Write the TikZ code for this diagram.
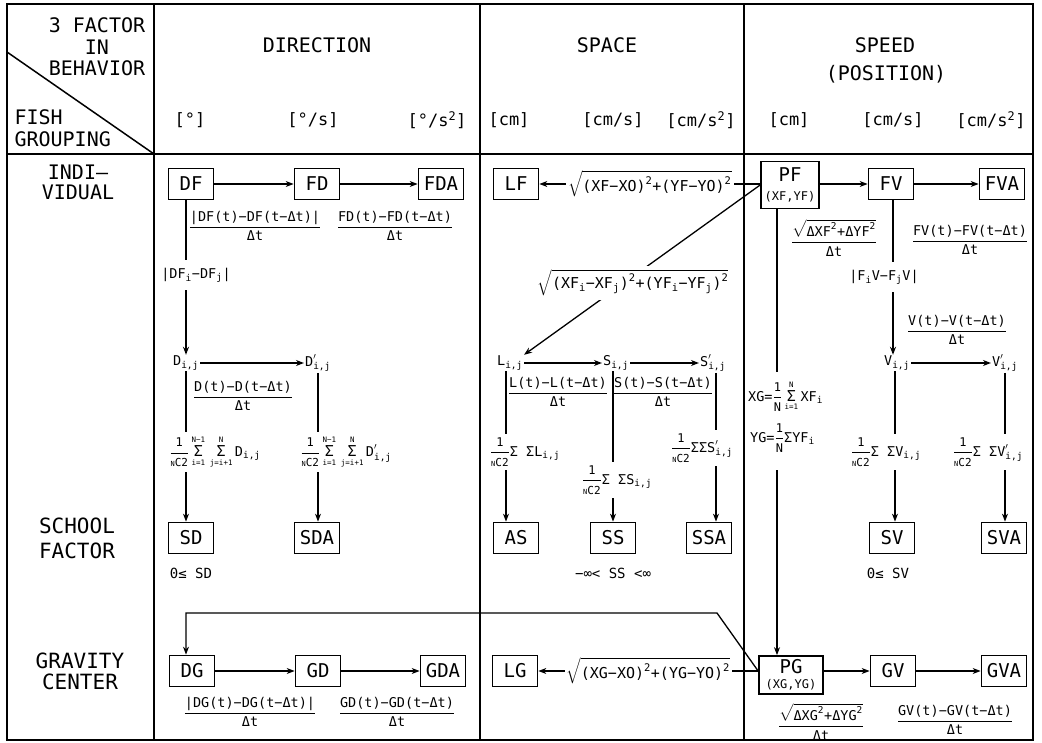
\documentclass[tikz,border=0pt]{standalone}
\usepackage{amsmath}
\usepackage{fontspec}
\setmainfont{DejaVu Sans Mono}
\usetikzlibrary{arrows.meta}
\newcommand{\fsz}[1]{\fontsize{#1}{#1}\selectfont}
\newcommand{\fr}[2]{$\dfrac{\text{#1}}{\text{#2}}$}
\newcommand{\nCt}{\text{\fsz{7}N}\text{\fsz{11}C2}}
\newcommand{\onenc}{\dfrac{\text{\fsz{12}1}}{\nCt}}
\newcommand{\sgm}[2]{\mathop{\text{\fsz{15}Σ}}\limits_{\text{\fsz{7.5}#1}}^{\text{\fsz{7.5}#2}}}
\newcommand{\sij}{_{\text{i,j}}}
\tikzset{
  bx/.style={draw, line width=1.7pt, minimum width=45pt, minimum height=31pt, inner sep=1pt, font=\fsz{19}},
  arr/.style={line width=1.3pt, -{Stealth[length=8pt,width=6pt]}},
  ln/.style={line width=1.3pt},
  lab/.style={font=\fsz{13.5}, inner sep=1pt},
  wl/.style={lab, fill=white, inner xsep=2pt, inner ysep=4pt},
  hd/.style={font=\fsz{20}},
  un/.style={font=\fsz{17}},
  tbl/.style={line width=1.5pt}
}
\begin{document}
\begin{tikzpicture}[x=1pt,y=-1pt]
\useasboundingbox (0,0) rectangle (1042,743);
% headers
\node[hd, align=center] (hA) at (97,47) {3 FACTOR\\[1.5pt]IN\\[1.5pt]BEHAVIOR};
\node[hd, align=left, anchor=west] (hB) at (11,128) {FISH\\[2pt]GROUPING};
\node[hd] (hDir) at (317,45) {DIRECTION};
\node[hd] (hSpa) at (607,45) {SPACE};
\node[hd] (hSpe) at (885,45) {SPEED};
\node[hd] (hPos) at (886,74) {(POSITION)};
\node[un] (u1) at (190,120) {[°]};
\node[un] (u2) at (313,120) {[°/s]};
\node[un] (u3) at (437,120) {[°/s\textsuperscript{2}]};
\node[un] (u4) at (509,120) {[cm]};
\node[un] (u5) at (613,120) {[cm/s]};
\node[un] (u6) at (701,120) {[cm/s\textsuperscript{2}]};
\node[un] (u7) at (789,120) {[cm]};
\node[un] (u8) at (893,120) {[cm/s]};
\node[un] (u9) at (991,120) {[cm/s\textsuperscript{2}]};
% row labels
\node[font=\fsz{20}, align=center] (rInd) at (78,182) {INDI–\\[0pt]VIDUAL};
\node[font=\fsz{21}, align=center] (rSch) at (77,538) {SCHOOL\\[4pt]FACTOR};
\node[font=\fsz{21}, align=center] (rGra) at (80,671) {GRAVITY\\CENTER};
% boxes
\node[bx] (DF) at (191,184) {DF};
\node[bx] (FD) at (317,184) {FD};
\node[bx] (FDA) at (441,184) {FDA};
\node[bx] (LF) at (516,184) {LF};
\node[bx, minimum width=58pt, minimum height=47pt, align=center] (PF) at (790,185) {PF\\{\fsz{12}(XF,YF)}};
\node[bx] (FV) at (891,184) {FV};
\node[bx] (FVA) at (1002,184) {FVA};
\node[bx] (SD) at (191,538) {SD};
\node[bx] (SDA) at (317,538) {SDA};
\node[bx] (AS) at (516,538) {AS};
\node[bx] (SS) at (613,538) {SS};
\node[bx] (SSA) at (709,538) {SSA};
\node[bx] (SV) at (892,538) {SV};
\node[bx] (SVA) at (1004,538) {SVA};
\node[bx] (DG) at (192,671) {DG};
\node[bx] (GD) at (318,671) {GD};
\node[bx] (GDA) at (443,671) {GDA};
\node[bx] (LG) at (515,671) {LG};
\node[bx, minimum width=64pt, minimum height=38pt, align=center] (PG) at (791,675) {PG\\[-4pt]{\fsz{12}(XG,YG)}};
\node[bx] (GV) at (893,671) {GV};
\node[bx] (GVA) at (1004,671) {GVA};
% intermediate quantities
\node[lab] (Dij) at (186,363) {$\text{D}\sij$};
\node[lab] (Dpij) at (318,363) {$\text{D}'\sij$};
\node[lab] (Lij) at (510,363) {$\text{L}\sij$};
\node[lab] (Sij) at (616,363) {$\text{S}\sij$};
\node[lab] (Spij) at (713,363) {$\text{S}'\sij$};
\node[lab] (Vij) at (897,363) {$\text{V}\sij$};
\node[lab] (Vpij) at (1005,363) {$\text{V}'\sij$};
% DIRECTION connectors
\draw[arr] (DF.east) -- (FD.west);
\draw[arr] (FD.east) -- (FDA.west);
\draw[arr] (DF.south -| Dij) -- (Dij.north);
\node[wl, inner ysep=8pt] (lDF) at (196,275) {$\text{|DF}_{\text{i}}\text{−DF}_{\text{j}}\text{|}$};
\draw[arr] (Dij.east) -- (Dpij.west);
\draw[arr] (Dij.south) -- (Dij |- SD.north);
\node[wl] (sD) at (215,452) {$\onenc\sgm{i=1}{N−1}\,\sgm{j=i+1}{N}\text{D}\sij$};
\draw[arr] (Dpij.south) -- (Dpij |- SDA.north);
\node[wl] (sDp) at (346,452) {$\onenc\sgm{i=1}{N−1}\,\sgm{j=i+1}{N}\text{D}'\sij$};
\draw[arr] (DG.east) -- (GD.west);
\draw[arr] (GD.east) -- (GDA.west);
% SPACE connectors
\draw[arr] (PF.west |- LF) -- node[wl, font=\fsz{15}] (qLF) {$\sqrt{\text{(XF−XO)}^{\text{2}}\text{+(YF−YO)}^{\text{2}}}$} (LF.east);
\draw[arr] (PF.west) -- (Lij.north east);
\node[wl, font=\fsz{15}] (qL) at (633,283) {$\sqrt{\text{(XF}_{\text{i}}\text{−XF}_{\text{j}}\text{)}^{\text{2}}\text{+(YF}_{\text{i}}\text{−YF}_{\text{j}}\text{)}^{\text{2}}}$};
\draw[arr] (Lij.east) -- (Sij.west);
\draw[arr] (Sij.east) -- (Spij.west);
\draw[arr] ([xshift=-4pt]Lij.south) -- ([xshift=-4pt]Lij.south |- AS.north);
\node[wl] (sL) at (525,452) {$\onenc\text{Σ ΣL}\sij$};
\draw[arr] ([xshift=-3pt]Sij.south) -- ([xshift=-3pt]Sij.south |- SS.north);
\node[wl] (sS) at (617,480) {$\onenc\text{Σ ΣS}\sij$};
\draw[arr] ([xshift=3pt]Spij.south) -- ([xshift=3pt]Spij.south |- SSA.north);
\node[wl] (sSp) at (702,448) {$\onenc\text{ΣΣS}'\sij$};
\draw[arr] (PG.west |- LG) -- node[wl, font=\fsz{15}] (qLG) {$\sqrt{\text{(XG−XO)}^{\text{2}}\text{+(YG−YO)}^{\text{2}}}$} (LG.east);
% SPEED connectors
\draw[arr] (PF.east |- FV) -- (FV.west);
\draw[arr] (FV.east) -- (FVA.west);
\coordinate (g1) at (777,372);
\coordinate (g2) at (777,470);
\draw[ln] (PF.south -| g1) -- (g1);
\draw[arr] (g2) -- (g2 |- PG.north);
\node[lab, anchor=west] (XG) at (747,396) {$\text{XG=}\dfrac{\text{\fsz{12}1}}{\text{\fsz{12}N}}\sgm{i=1}{N}\text{XF}_{\text{i}}$};
\node[lab, anchor=west] (YG) at (749,438) {$\text{YG=}\dfrac{\text{\fsz{12}1}}{\text{\fsz{12}N}}\text{ΣYF}_{\text{i}}$};
\draw[arr] ([xshift=2pt]FV.south) -- ([xshift=2pt]FV.south |- Vij.north);
\node[wl, inner ysep=8pt] (lFV) at (884,277) {$\text{|F}_{\text{i}}\text{V−F}_{\text{j}}\text{V|}$};
\draw[arr] (Vij.east) -- (Vpij.west);
\draw[arr] ([xshift=-2pt]Vij.south) -- ([xshift=-2pt]Vij.south |- SV.north);
\node[wl] (sV) at (886,452) {$\onenc\text{Σ ΣV}\sij$};
\draw[arr] (Vpij.south) -- (Vpij |- SVA.north);
\node[wl] (sVp) at (988,452) {$\onenc\text{Σ ΣV}'\sij$};
\draw[arr] (PG.east |- GV) -- (GV.west);
\draw[arr] (GV.east) -- (GVA.west);
\coordinate (k1) at (717,613);
\coordinate (k2) at (186,613);
\draw[arr] ([yshift=4pt]PG.west) -- (k1) -- (k2) -- (k2 |- DG.north);
% formula labels
\node[lab] (fDF) at (255,226) {\fr{|DF(t)−DF(t−Δt)|}{Δt}};
\node[lab] (fFD) at (395,226) {\fr{FD(t)−FD(t−Δt)}{Δt}};
\node[lab] (fD) at (243,396) {\fr{D(t)−D(t−Δt)}{Δt}};
\node[lab] (fL) at (558,392) {\fr{L(t)−L(t−Δt)}{Δt}};
\node[lab] (fS) at (663,392) {\fr{S(t)−S(t−Δt)}{Δt}};
\node[lab] (fXF) at (834,238) {$\dfrac{\sqrt{\text{ΔXF}^{\text{2}}\text{+ΔYF}^{\text{2}}}}{\text{Δt}}$};
\node[lab] (fFV) at (970,240) {\fr{FV(t)−FV(t−Δt)}{Δt}};
\node[lab] (fV) at (957,330) {\fr{V(t)−V(t−Δt)}{Δt}};
\node[lab] (fDG) at (250,712) {\fr{|DG(t)−DG(t−Δt)|}{Δt}};
\node[lab] (fGD) at (397,712) {\fr{GD(t)−GD(t−Δt)}{Δt}};
\node[lab] (fXG) at (821,722) {$\dfrac{\sqrt{\text{ΔXG}^{\text{2}}\text{+ΔYG}^{\text{2}}}}{\text{Δt}}$};
\node[lab] (fGV) at (955,720) {\fr{GV(t)−GV(t−Δt)}{Δt}};
\node[lab, font=\fsz{14}] (cSD) at (191,573) {0≤ SD};
\node[lab, font=\fsz{14}] (cSS) at (613,573) {−∞< SS <∞};
\node[lab, font=\fsz{14}] (cSV) at (888,573) {0≤ SV};
% table
\draw[tbl] (7,4) rectangle (1033,740);
\draw[tbl] (154,4) -- (154,740);
\draw[tbl] (480,4) -- (480,740);
\draw[tbl] (744,4) -- (744,740);
\draw[tbl] (7,154) -- (1033,154);
\draw[tbl] (7,52) -- (154,154);
\end{tikzpicture}
\end{document}
